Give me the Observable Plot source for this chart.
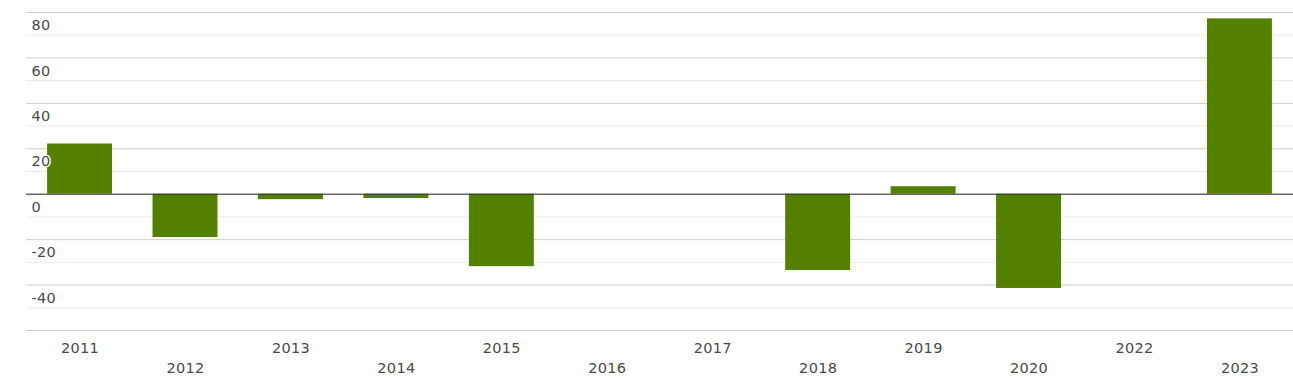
<!DOCTYPE html>
<html>
<head>
<meta charset="utf-8">
<script src="https://cdn.jsdelivr.net/npm/d3@7"></script>
<script src="https://cdn.jsdelivr.net/npm/@observablehq/plot@0.6"></script>
<style>
  html, body { margin: 0; padding: 0; background: #fff; }
  #chart svg { display: block; }
  #chart svg text { letter-spacing: 0.3px; }
</style>
</head>
<body>
<div id="chart"></div>
<script>
const years  = ["2011","2012","2013","2014","2015","2016","2017","2018","2019","2020","2022","2023"];
const values = [22.1, -19.1, -2.4, -1.9, -31.9, 0, 0, -33.6, 3.3, -41.5, 0, 77.2];
const majorTicks = [80, 60, 40, 20, 0, -20, -40, -60];
const minorTicks = [70, 50, 30, 10, -10, -30, -50];
const yLabels = [80, 60, 40, 20, 0, -20, -40];

const data = years.map((y, i) => ({year: y, value: values[i], row: i % 2}));

const chart = Plot.plot({
  width: 1293,
  height: 384,
  marginLeft: 26,
  marginRight: 0,
  marginTop: 12,
  marginBottom: 54,
  style: {fontFamily: "DejaVu Sans, sans-serif", fontSize: "14.5px", background: "#fff"},
  x: {domain: years, paddingInner: 0.384, paddingOuter: 0.2, round: false, axis: null},
  y: {domain: [-60, 80], axis: null},
  marks: [
    Plot.ruleY(minorTicks, {stroke: "#ebebeb", strokeWidth: 1}),
    Plot.ruleY(majorTicks, {stroke: "#cccccc", strokeWidth: 1}),
    Plot.barY(data, {x: "year", y: "value", fill: "#548000"}),
    Plot.ruleY([0], {stroke: "#333333", strokeWidth: 1}),
    Plot.text(yLabels, {
      y: d => d, text: d => String(d), frameAnchor: "left", textAnchor: "start", lineAnchor: "middle",
      dx: 5, dy: 13, fill: "#4a4a4a", stroke: "white", strokeWidth: 3, fontSize: 14.5
    }),
    Plot.text(data.filter(d => d.row === 0), {
      x: "year", text: "year", frameAnchor: "bottom", lineAnchor: "middle", dy: 18, fill: "#4a4a4a", fontSize: 14.5
    }),
    Plot.text(data.filter(d => d.row === 1), {
      x: "year", text: "year", frameAnchor: "bottom", lineAnchor: "middle", dy: 38, fill: "#4a4a4a", fontSize: 14.5
    })
  ]
});
document.getElementById("chart").appendChild(chart);
</script>
</body>
</html>
